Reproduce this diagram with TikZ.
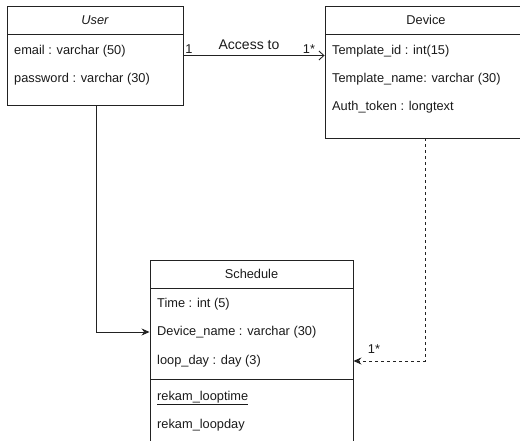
\documentclass[tikz,border=0pt]{standalone}
\usepackage{fontspec}
\setmainfont{Liberation Sans}
\usetikzlibrary{arrows.meta}
\definecolor{ln}{HTML}{222222}
\definecolor{tx}{HTML}{1A1A1A}
\begin{document}
\begin{tikzpicture}[x=1pt,y=-1pt,
  box/.style={draw=ln,line width=0.9pt,rectangle,inner sep=0pt},
  fld/.style={anchor=west,inner sep=0pt,text=tx,font=\fontsize{12.8}{15}\selectfont},
  ttl/.style={inner sep=0pt,text=tx,font=\fontsize{12.8}{15}\selectfont},
  conn/.style={draw=ln,line width=0.9pt},
  lbl/.style={inner sep=0pt,text=tx,font=\fontsize{12.8}{15}\selectfont}]
\useasboundingbox (0,0) rectangle (520,441);
\clip (0,0) rectangle (520,441);
% User
\node[box,minimum width=176pt,minimum height=99pt] (user) at (95,55.5) {};
\draw[conn] (7,34) -- (183,34);
\node[ttl,font=\fontsize{12.8}{15}\selectfont\itshape] (usert) at (95,20) {User};
\node[fld] (uemail) at (14,51) {email : varchar (50)};
\node[fld] (upass) at (14,79) {password : varchar (30)};
% Device
\node[box,minimum width=202pt,minimum height=132pt] (device) at (426,72) {};
\draw[conn] (325,34) -- (527,34);
\node[ttl] (devicet) at (426,20) {Device};
\node[fld] (dtid) at (332,51) {Template\_id : int(15)};
\node[fld] (dtname) at (332,79) {Template\_name: varchar (30)};
\node[fld] (dauth) at (332,107) {Auth\_token : longtext};
% Schedule
\node[box,minimum width=203pt,minimum height=190pt] (sched) at (251.5,355) {};
\draw[conn] (150,288) -- (353,288);
\draw[conn] (150,379) -- (353,379);
\node[ttl] (schedt) at (251.5,274) {Schedule};
\node[fld] (stime) at (157,304) {Time : int (5)};
\node[fld] (sdev) at (157,332) {Device\_name : varchar (30)};
\node[fld] (sloop) at (157,361) {loop\_day : day (3)};
\node[fld] (sloopt) at (157,398) {\underline{rekam\_looptime}};
\node[fld] (sloopd) at (157,425) {rekam\_loopday};
% connectors
\draw[conn,-{Straight Barb[length=5pt,width=9pt]}] (user.east) -- (user.east -| device.west);
\node[lbl] (l1) at (189,49) {1};
\node[lbl,font=\fontsize{14}{16}\selectfont] (lacc) at (249,45) {Access to};
\node[lbl] (l1s) at (309,49) {1*};
\draw[conn,-{Stealth[length=8pt,width=7pt]}] (user.south -| 96,0) |- (sched.west |- sdev);
\draw[conn,dashed,dash pattern=on 3pt off 3pt,-{Stealth[length=8pt,width=7pt]}] (device.south -| 425,0) |- (sched.east |- sloop);
\node[lbl] (l2s) at (374,349) {1*};
\end{tikzpicture}
\end{document}
